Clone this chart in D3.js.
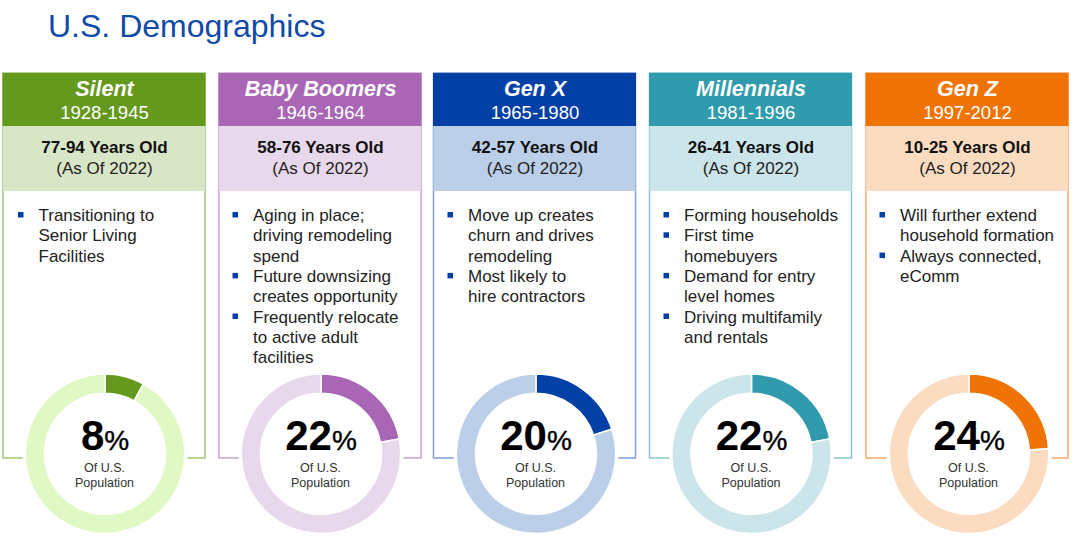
<!DOCTYPE html>
<html>
<head>
<meta charset="utf-8">
<script src="https://cdn.jsdelivr.net/npm/d3@7"></script>
<style>
  html, body { margin: 0; padding: 0; background: #fff; }
  svg { display: block; }
  text { font-family: "Liberation Sans", Arial, sans-serif; }
</style>
</head>
<body>
<svg id="chart"></svg>
<script>
(function() {

  const generations = ['Silent', 'Baby Boomers', 'Gen X', 'Millennials', 'Gen Z'];
  const birthYears = ['1928-1945', '1946-1964', '1965-1980', '1981-1996', '1997-2012'];
  const ages = ['77-94 Years Old', '58-76 Years Old', '42-57 Years Old', '26-41 Years Old', '10-25 Years Old'];
  const populationShare = [8, 22, 20, 22, 24];
  const bullets = [
    [['Transitioning to', 'Senior Living', 'Facilities']],
    [['Aging in place;', 'driving remodeling', 'spend'], ['Future downsizing', 'creates opportunity'], ['Frequently relocate', 'to active adult', 'facilities']],
    [['Move up creates', 'churn and drives', 'remodeling'], ['Most likely to', 'hire contractors']],
    [['Forming households'], ['First time', 'homebuyers'], ['Demand for entry', 'level homes'], ['Driving multifamily', 'and rentals']],
    [['Will further extend', 'household formation'], ['Always connected,', 'eComm']]
  ];

  const mainColors = ['#65991d', '#a966b4', '#0340a6', '#2f9bac', '#ef7405'];
  const borderColors = ['#a3c57a', '#cba2d2', '#7f9fd6', '#85c5d0', '#f5ab6d'];
  const subColors = ['#d8e5c6', '#e8d8ec', '#bccfe8', '#cbe5ea', '#fbdcc0'];
  const ringColors = ['#e0f9c4', '#e8d8ec', '#bccfe8', '#cbe5ea', '#fbdcc0'];

  const width = 1080;
  const height = 537;
  const cardLeft = [3, 219, 433.5, 649.5, 866];
  const cardWidth = 202;
  const ringCenter = [105, 321, 536, 751.5, 969];
  const bulletText = [35.5, 34, 34.5, 34.5, 34];
  const cardTop = 73;
  const headHeight = 53;
  const subHeight = 65;
  const cardBottom = 458;
  const ringY = 453.8;
  const lineHeight = 20.3;

  const svg = d3.select('#chart')
    .attr('width', width)
    .attr('height', height);

  svg.append('text')
    .attr('x', 48)
    .attr('y', 37)
    .attr('fill', '#0f4aa8')
    .style('font-size', '32px')
    .text('U.S. Demographics');

  const arc = d3.arc().innerRadius(60.5).outerRadius(79.7);
  const pie = d3.pie().sort(null).value(function(d) { return d; });

  const cards = svg.selectAll('g.card')
    .data(generations)
    .enter()
    .append('g')
    .attr('class', 'card')
    .attr('transform', function(d, i) { return 'translate(' + cardLeft[i] + ',' + cardTop + ')'; });

  cards.append('rect')
    .attr('width', cardWidth)
    .attr('height', cardBottom - cardTop)
    .attr('fill', '#fff')
    .attr('stroke', function(d, i) { return borderColors[i]; })
    .attr('stroke-width', 1.5);

  cards.append('rect')
    .attr('y', headHeight)
    .attr('width', cardWidth)
    .attr('height', subHeight)
    .attr('fill', function(d, i) { return subColors[i]; })
    .attr('stroke', 'none');

  cards.append('rect')
    .attr('x', -0.5)
    .attr('width', cardWidth + 1)
    .attr('height', headHeight)
    .attr('fill', function(d, i) { return mainColors[i]; });

  const center = cardWidth / 2;

  cards.append('text')
    .attr('x', center + 0.5)
    .attr('y', 23)
    .attr('text-anchor', 'middle')
    .attr('fill', '#fff')
    .style('font-size', '21.5px')
    .style('font-weight', 'bold')
    .style('font-style', 'italic')
    .text(function(d) { return d; });

  cards.append('text')
    .attr('x', center + 0.5)
    .attr('y', 46)
    .attr('text-anchor', 'middle')
    .attr('fill', '#fff')
    .style('font-size', '18.5px')
    .text(function(d, i) { return birthYears[i]; });

  cards.append('text')
    .attr('x', center + 0.5)
    .attr('y', 80)
    .attr('text-anchor', 'middle')
    .attr('fill', '#111')
    .style('font-size', '17px')
    .style('font-weight', 'bold')
    .text(function(d, i) { return ages[i]; });

  cards.append('text')
    .attr('x', center + 0.5)
    .attr('y', 100.5)
    .attr('text-anchor', 'middle')
    .attr('fill', '#222')
    .style('font-size', '17px')
    .text('(As Of 2022)');

  // bullet lists, one line counter per card
  cards.each(function(d, i) {
    const g = d3.select(this);
    let line = 0;
    bullets[i].forEach(function(item) {
      const y = 148 + line * lineHeight;
      g.append('rect')
        .attr('x', bulletText[i] - 20.5)
        .attr('y', y - 9)
        .attr('width', 5.5)
        .attr('height', 5.5)
        .attr('fill', '#0340a6');
      item.forEach(function(txt) {
        g.append('text')
          .attr('x', bulletText[i])
          .attr('y', 148 + line * lineHeight)
          .attr('fill', '#222')
          .style('font-size', '17px')
          .text(txt);
        line++;
      });
    });
  });

  const rings = svg.selectAll('g.ring')
    .data(populationShare)
    .enter()
    .append('g')
    .attr('class', 'ring')
    .attr('transform', function(d, i) { return 'translate(' + ringCenter[i] + ',' + ringY + ')'; });

  rings.append('circle')
    .attr('r', 82.5)
    .attr('fill', '#fff');

  rings.each(function(d, i) {
    d3.select(this).selectAll('path')
      .data(pie([d, 100 - d]))
      .enter()
      .append('path')
      .attr('d', arc)
      .attr('fill', function(p) { return p.index === 0 ? mainColors[i] : ringColors[i]; })
      .attr('stroke', '#fff')
      .attr('stroke-width', 1.5);
  });

  const pct = rings.append('text')
    .attr('y', -3.8)
    .attr('text-anchor', 'middle')
    .attr('fill', '#000');
  pct.append('tspan')
    .style('font-size', '42px')
    .style('font-weight', 'bold')
    .text(function(d) { return d; });
  pct.append('tspan')
    .style('font-size', '28px')
    .style('stroke', '#000')
    .style('stroke-width', '0.4px')
    .text('%');

  rings.append('text')
    .attr('x', -0.5)
    .attr('y', 18.5)
    .attr('text-anchor', 'middle')
    .attr('fill', '#333')
    .style('font-size', '12.5px')
    .text('Of U.S.');

  rings.append('text')
    .attr('x', -0.5)
    .attr('y', 33.5)
    .attr('text-anchor', 'middle')
    .attr('fill', '#333')
    .style('font-size', '12.5px')
    .text('Population');
})();
</script>
</body>
</html>
